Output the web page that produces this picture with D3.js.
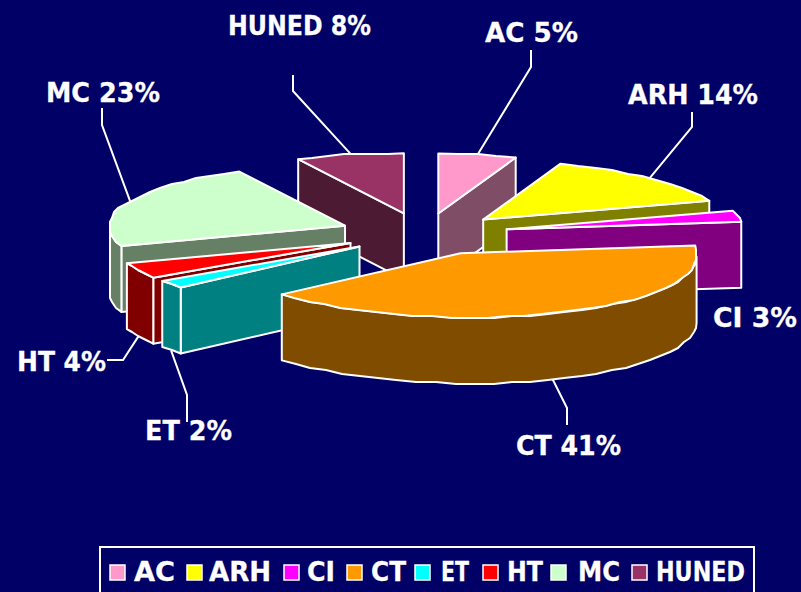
<!DOCTYPE html>
<html><head><meta charset="utf-8">
<script src="https://cdnjs.cloudflare.com/ajax/libs/d3/7.8.5/d3.min.js"></script>
<style>html,body{margin:0;padding:0;background:#000066;overflow:hidden}svg{display:block}
text{font-family:"DejaVu Sans",sans-serif;font-weight:bold;fill:#fff;stroke:#fff;stroke-width:.3px}</style>
</head><body><svg id="c" width="801" height="592"></svg>
<script>
// data
const categories=["AC","ARH","CI","CT","ET","HT","MC","HUNED"];
const shares=[5,14,3,41,2,4,23,8];
const colors=["#FF99CC","#FFFF00","#FF00FF","#FF9900","#00FFFF","#FF0000","#CCFFCC","#993366"];
// layout
const W=801,H=592,C={x:425,y:234},EXPL={a:85,b:21},DEPTH=66,SKEW_Y=0.015,BACK_SHIFT=5,SNAP=2;
const paintOrder=["AC","HUNED","ARH","CI","MC","HT","ET","CT"];
const labelPos={AC:[485,42],ARH:[628,104],CI:[713,327],CT:[516,455],ET:[145,440],HT:[17,371],MC:[46,102],HUNED:[228,35]};
const labelWidth={AC:93,ARH:130,CI:84,CT:105,ET:87,HT:89,MC:114,HUNED:143};
const leaderElbows={AC:[[531,67],[531,50]],ARH:[[692,127],[692,112]],CT:[[567,408],[567,425]],ET:[[187,395],[187,422]],HT:[[123,360],[107,360]],MC:[[102,125],[102,108]],HUNED:[[293,91],[293,75]]};
const leaderShift={CT:0.07};
const explodeNudge={CT:-3};
const legendSwatchX=[110,187,284,347,415,483,551,632];
const legendTextX=[134,209,307,371,441,507,578,656];
const legendTextW=[41,62,28,35,28,36,42,89];

const svg=d3.select("#c");
svg.append("rect").attr("width",W).attr("height",H).attr("fill","#000066");

const pie=d3.pie().value(d=>d.v).sort(null);
const slices=pie(categories.map((n,i)=>({n,v:shares[i],c:colors[i]})));
const half=c=>{const r=d3.rgb(c);return d3.rgb(r.r/2,r.g/2,r.b/2).formatHex();};
const clamp=d3.scaleLinear().domain([0,1]).range([0,1]).clamp(true);
const rimX=t=>{const c=Math.cos(t);
  if(Math.sin(t)<0) return c<0?235+15*Math.abs(c):235-6*c;
  return c>0.15?240-6*c:236;};
const rimY=t=>Math.cos(t)>0?60:64;
const backShift=t=>BACK_SHIFT*clamp(Math.abs(Math.sin(t))/0.3)*clamp((Math.cos(t)-0.2)/0.15);
const skew=p=>[p[0],p[1]+SKEW_Y*(p[0]-C.x)];
const snap=p=>[Math.round(p[0]/SNAP)*SNAP,Math.round(p[1]/SNAP)*SNAP];

slices.forEach(s=>{
  s.mid=(s.startAngle+s.endAngle)/2;
  s.ax=C.x+EXPL.a*Math.sin(s.mid)+(explodeNudge[s.data.n]||0);
  s.ay=C.y-EXPL.b*Math.cos(s.mid);
  s.pt=t=>skew([s.ax+rimX(t)*Math.sin(t)+backShift(t),s.ay-rimY(t)*Math.cos(t)]);
  s.arc=(a,b)=>{const n=Math.max(1,Math.ceil((b-a)/0.08));
    return d3.range(n+1).map(i=>{const p=s.pt(a+(b-a)*i/n);return (i===0||i===n)?p:snap(p);});};
});
const line=d3.line();
const down=p=>[p[0],p[1]+DEPTH];
const style=(sel,fill)=>sel.attr("fill",fill).attr("stroke","#fff").attr("stroke-width",2).attr("stroke-linejoin","round");

// leaders, behind the pie
const leaders=svg.append("g");
slices.forEach(s=>{
  const el=leaderElbows[s.data.n]; if(!el) return;
  const t=s.mid+(leaderShift[s.data.n]||0);
  let p=s.pt(t); if(Math.cos(t)<0) p=down(p);
  leaders.append("path").attr("d",line([p,...el])).attr("fill","none").attr("stroke","#fff").attr("stroke-width",2);
});

const pieG=svg.append("g");
paintOrder.forEach(name=>{
  const s=slices.find(d=>d.data.n===name),g=pieG.append("g"),wall=half(s.data.c);
  const apex=skew([s.ax,s.ay]);
  const quad=t=>{const r=s.pt(t);return [apex,r,down(r),down(apex)];};
  if(Math.sin(s.startAngle)<0) style(g.append("path").attr("d",line(quad(s.startAngle))+"Z"),wall);
  if(Math.sin(s.endAngle)>0) style(g.append("path").attr("d",line(quad(s.endAngle))+"Z"),wall);
  const a=Math.max(s.startAngle,Math.PI/2),b=Math.min(s.endAngle,Math.PI*1.5);
  if(a<b){const top=s.arc(a,b);style(g.append("path").attr("d",line([...top,...top.slice().reverse().map(down)])+"Z"),wall);}
  style(g.append("path").attr("d",line([apex,...s.arc(s.startAngle,s.endAngle)])+"Z"),s.data.c);
});

// labels
slices.forEach(s=>{
  const [x,y]=labelPos[s.data.n];
  svg.append("text").attr("x",x).attr("y",y).attr("font-size",26)
    .attr("textLength",labelWidth[s.data.n]).attr("lengthAdjust","spacingAndGlyphs").text(`${s.data.n} ${s.data.v}%`);
});

// legend
svg.append("rect").attr("x",100).attr("y",547).attr("width",654).attr("height",50).attr("fill","none").attr("stroke","#fff").attr("stroke-width",2);
categories.forEach((n,i)=>{
  svg.append("rect").attr("x",legendSwatchX[i]).attr("y",565).attr("width",15).attr("height",15).attr("fill",colors[i]).attr("stroke","#fff").attr("stroke-width",1.5);
  svg.append("text").attr("x",legendTextX[i]).attr("y",581).attr("font-size",26)
    .attr("textLength",legendTextW[i]).attr("lengthAdjust","spacingAndGlyphs").text(n);
});
</script></body></html>
